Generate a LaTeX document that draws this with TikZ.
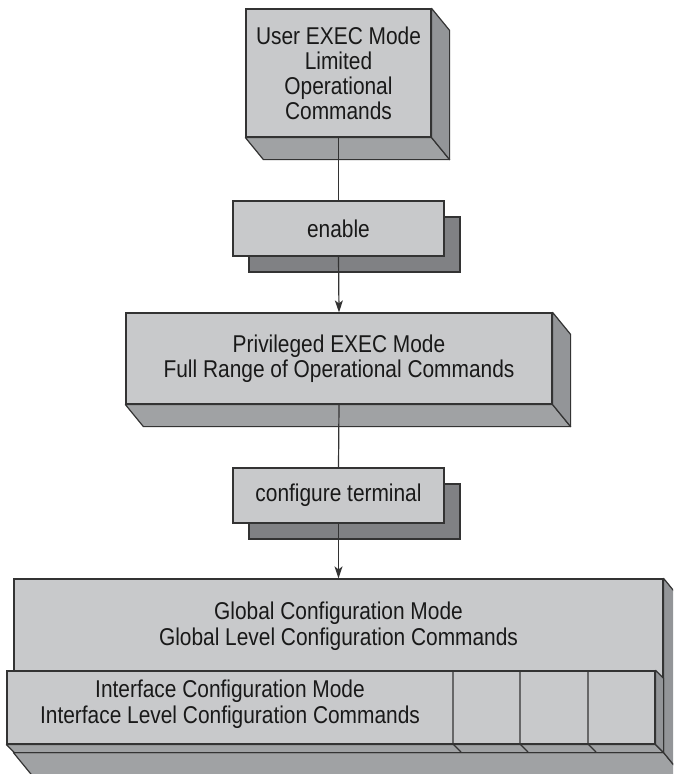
\documentclass[tikz,border=0pt]{standalone}
\usepackage{fontspec}
\setmainfont{Liberation Sans}[FakeStretch=0.86]
\usetikzlibrary{arrows.meta,shadows}
\definecolor{facegray}{HTML}{C8C9CB}
\definecolor{basegray}{HTML}{A0A2A4}
\definecolor{sidegray}{HTML}{939598}
\definecolor{shadegray}{HTML}{808184}
\definecolor{edgegray}{HTML}{333333}
\tikzset{
  modebox/.style={draw=edgegray, fill=facegray, line width=1.2pt, inner sep=0pt, align=center,
    text=black!90, font=\fontsize{24.3}{25}\selectfont},
  cmdbox/.style={modebox, drop shadow={shadow xshift=16pt, shadow yshift=-16pt, opacity=1,
    fill=shadegray, draw=edgegray, line width=1.2pt}},
  modetext/.style={align=center, inner sep=0pt, text=black!90, font=\fontsize{24.3}{26}\selectfont},
  bottomface/.style={draw=edgegray, fill=basegray, line width=1.2pt, line join=round},
  sideface/.style={draw=edgegray, fill=sidegray, line width=1.2pt, line join=round},
  wire/.style={draw=edgegray, line width=1.2pt},
  flow/.style={wire, -{Stealth[length=12pt,width=8pt,inset=3pt]}}
}
\newcommand\extrude[3]{%
  \draw[bottomface] (#1.south west) -- (#1.south east) -- ([shift={(#2,#3)}]#1.south east)
    -- ([shift={(#2,#3)}]#1.south west) -- cycle;
  \draw[sideface] (#1.north east) -- ([shift={(#2,#3)}]#1.north east)
    -- ([shift={(#2,#3)}]#1.south east) -- (#1.south east) -- cycle;
}
\begin{document}
\begin{tikzpicture}[x=1pt,y=-1pt]
\useasboundingbox (0,0) rectangle (673,774);
\clip (0,0) rectangle (673,774);

\node[modebox, minimum width=185pt, minimum height=128pt] (user) at (338.5,73)
  {User EXEC Mode\\Limited\\Operational\\Commands};
\extrude{user}{18}{22}

\node[cmdbox, minimum width=211pt, minimum height=55pt] (enable) at (338.5,228.5) {enable};

\node[modebox, minimum width=426pt, minimum height=91pt] (priv) at (339,358.5)
  {Privileged EXEC Mode\\Full Range of Operational Commands};
\extrude{priv}{18}{22}

\node[cmdbox, minimum width=211pt, minimum height=55pt] (conft) at (338.5,495.5) {configure terminal};

\node[modebox, minimum width=649pt, minimum height=173pt] (global) at (338.5,665.5) {};
\extrude{global}{18}{22}
\node[modetext] (globaltext) at (338.5,626)
  {Global Configuration Mode\\Global Level Configuration Commands};

\node[modebox, minimum width=648pt, minimum height=73pt] (iface) at (331,707.5) {};
\extrude{iface}{8}{8}
\foreach \x in {453,520,588}{
    \draw[wire] (\x,671) -- (\x,744) -- ++(8,8);
}
\node[modetext] (ifacetext) at (230,704.5)
  {Interface Configuration Mode\\Interface Level Configuration Commands};

\draw[wire] (user.south) -- (enable.north);
\draw[flow] (enable.south) -- (priv.north);
\draw[wire] (priv.south) -- (conft.north);
\draw[flow] (conft.south) -- (global.north);
\end{tikzpicture}
\end{document}
